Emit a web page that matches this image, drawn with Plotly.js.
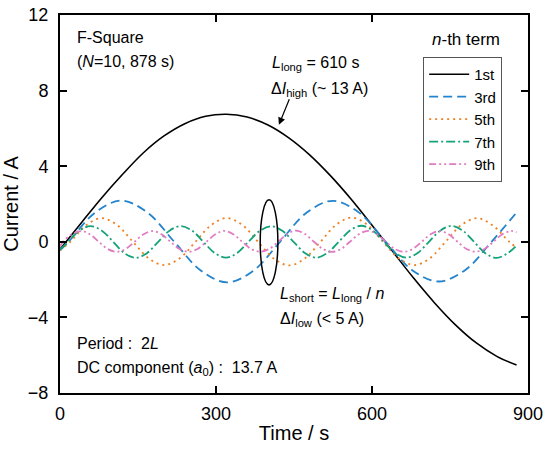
<!DOCTYPE html>
<html>
<head>
<meta charset="utf-8">
<script src="https://cdn.plot.ly/plotly-3.0.1.min.js"></script>
<style>html,body{margin:0;padding:0;background:#fff;}#chart{width:550px;height:452px;}</style>
</head>
<body>
<div id="chart"></div>
<script>
// ---- data ----
var seriesNames = ["1st", "3rd", "5th", "7th", "9th"];

var time1 = [0, 40, 80, 120, 160, 200, 240, 280, 320, 360, 400, 440, 480, 520, 560, 600, 640, 680, 720, 760, 800, 840, 878];
var cur1  = [-0.40, 0.97, 2.32, 3.56, 4.70, 5.60, 6.25, 6.64, 6.75, 6.60, 6.18, 5.50, 4.60, 3.50, 2.25, 0.88, -0.52, -1.92, -3.22, -4.38, -5.34, -6.06, -6.52];

var time3 = [0, 16.5, 67.3, 118.2, 169.0, 219.8, 270.7, 321.5, 372.3, 423.2, 474.0, 524.8, 575.7, 626.5, 677.3, 728.2, 779.0, 829.8, 878];
var cur3  = [-0.45, 0, 1.54, 2.18, 1.53, 0, -1.52, -2.15, -1.52, 0, 1.54, 2.17, 1.53, 0, -1.50, -2.10, -1.50, 0, 1.55];

var time5 = [0, 20, 50.1, 80.1, 110.2, 140.2, 170.3, 200.4, 230.4, 260.5, 290.5, 320.6, 350.7, 380.7, 410.8, 440.8, 470.9, 501.0, 531.0, 561.1, 591.1, 621.2, 651.3, 681.3, 711.4, 741.4, 771.5, 801.6, 831.6, 864.0, 878];
var cur5  = [-0.45, 0, 0.88, 1.25, 0.88, 0, -0.87, -1.23, -0.87, 0, 0.88, 1.26, 0.89, 0, -0.88, -1.25, -0.88, 0, 0.90, 1.28, 0.90, 0, -0.87, -1.23, -0.87, 0, 0.88, 1.25, 0.88, 0, -0.30];

var time7 = [0, 15.4, 37.1, 58.8, 80.5, 102.2, 123.9, 145.5, 167.2, 188.9, 210.6, 232.3, 254.0, 275.7, 297.4, 319.1, 340.8, 362.4, 384.1, 405.8, 427.5, 449.2, 470.9, 492.6, 514.3, 536.0, 557.7, 579.3, 601.0, 622.7, 644.4, 666.1, 687.8, 709.5, 731.2, 752.9, 774.6, 796.2, 817.9, 839.6, 861.3, 878];
var cur7  = [-0.42, 0, 0.59, 0.83, 0.59, 0, -0.60, -0.85, -0.60, 0, 0.59, 0.83, 0.59, 0, -0.59, -0.84, -0.59, 0, 0.58, 0.82, 0.58, 0, -0.59, -0.84, -0.59, 0, 0.60, 0.85, 0.60, 0, -0.59, -0.84, -0.59, 0, 0.59, 0.84, 0.59, 0, -0.60, -0.85, -0.60, -0.20];

var time9 = [0, 5.5, 22.8, 40.0, 57.3, 74.5, 91.8, 109.0, 126.3, 143.5, 160.8, 178.0, 195.3, 212.5, 229.8, 247.0, 264.3, 281.5, 298.8, 316.0, 333.3, 350.5, 367.8, 385.0, 402.3, 419.5, 436.8, 454.0, 471.3, 488.5, 505.8, 523.0, 540.3, 557.5, 574.8, 592.0, 609.3, 626.5, 643.8, 661.0, 678.3, 695.5, 712.8, 730.0, 747.3, 764.5, 781.8, 799.0, 816.3, 833.5, 850.8, 868.0, 878];
var cur9  = [-0.25, 0, 0.40, 0.57, 0.40, 0, -0.38, -0.53, -0.38, 0, 0.40, 0.57, 0.40, 0, -0.38, -0.53, -0.38, 0, 0.40, 0.58, 0.40, 0, -0.38, -0.52, -0.38, 0, 0.41, 0.59, 0.41, 0, -0.38, -0.53, -0.38, 0, 0.40, 0.58, 0.40, 0, -0.38, -0.53, -0.38, 0, 0.40, 0.57, 0.40, 0, -0.38, -0.52, -0.38, 0, 0.40, 0.57, 0.50];

var xTicks = [0, 300, 600, 900];
var yTicks = [-8, -4, 0, 4, 8, 12];

// ---- styles ----
var FONT = "Liberation Sans, Arial, sans-serif";
var colors = ["#000000", "#2383cc", "#f07f1e", "#14a27a", "#e07cc2"];
var dashes = ["solid", "9px,5px", "2px,4px", "9px,3px,2px,3px", "7px,3px,2px,3px,2px,3px"];
var xs = [time1, time3, time5, time7, time9];
var ys = [cur1, cur3, cur5, cur7, cur9];

var traces = seriesNames.map(function (nm, i) {
  return {
    x: xs[i], y: ys[i], name: nm, type: "scatter", mode: "lines",
    line: {color: colors[i], width: i === 0 ? 1.6 : 1.8, dash: dashes[i], shape: "spline", smoothing: 1}
  };
});

var annFont = {family: FONT, size: 16, color: "#000"};
function ann(x, y, text, xanchor) {
  return {x: x, y: y, xref: "x", yref: "y", text: text, showarrow: false,
          xanchor: xanchor || "left", yanchor: "middle", font: annFont};
}

var layout = {
  width: 550, height: 452,
  margin: {l: 60, r: 22, t: 15, b: 59},
  paper_bgcolor: "#fff", plot_bgcolor: "#fff",
  font: {family: FONT, size: 18, color: "#000"},
  showlegend: true,
  legend: {
    x: 0.776, y: 0.889, xanchor: "left", yanchor: "top",
    bgcolor: "#fff", bordercolor: "#555", borderwidth: 1,
    font: {family: FONT, size: 15, color: "#000"},
    itemwidth: 40,
    tracegroupgap: 0
  },
  xaxis: {
    range: [0, 900], tickvals: xTicks, ticktext: xTicks.map(String),
    ticks: "inside", ticklen: 7, tickwidth: 2, tickcolor: "#000",
    showline: true, linewidth: 2, linecolor: "#000", mirror: "ticks",
    showgrid: false, zeroline: false,
    tickfont: {family: FONT, size: 18, color: "#000"},
    ticklabelstandoff: 3,
    title: {text: "Time / s", font: {family: FONT, size: 20, color: "#000"}, standoff: 3}
  },
  yaxis: {
    range: [-8, 12], tickvals: yTicks, ticktext: yTicks.map(function (v) { return v < 0 ? "\u2212" + Math.abs(v) : String(v); }),
    ticks: "inside", ticklen: 7, tickwidth: 2, tickcolor: "#000",
    showline: true, linewidth: 2, linecolor: "#000", mirror: "ticks",
    showgrid: false, zeroline: false,
    tickfont: {family: FONT, size: 18, color: "#000"},
    ticklabelstandoff: 6,
    title: {text: "Current / A", font: {family: FONT, size: 20, color: "#000"}, standoff: 5}
  },
  shapes: [
    {type: "circle", xref: "x", yref: "y", x0: 385, x1: 419, y0: -2.28, y1: 2.22,
     line: {color: "#000", width: 1.5}, fillcolor: "rgba(0,0,0,0)"}
  ],
  annotations: [
    ann(29, 10.8, "F-Square"),
    ann(29, 9.52, "(<i>N</i>=10, 878 s)"),
    ann(404, 9.45, "<i>L</i><sub>long</sub> = 610 s"),
    ann(402, 8.04, "\u0394<i>I</i><sub>high</sub> (~ 13 A)"),
    ann(419, -2.8, "<i>L</i><sub>short</sub> = <i>L</i><sub>long</sub> / <i>n</i>"),
    ann(419, -4.13, "\u0394<i>I</i><sub>low</sub> (< 5 A)"),
    ann(29, -5.4, "Period :  2<i>L</i>"),
    ann(29, -6.72, "DC component (<i>a</i><sub>0</sub>) :  13.7 A"),
    {x: 781, y: 10.69, xref: "x", yref: "y", text: "<i>n</i>-th term", showarrow: false,
     xanchor: "center", yanchor: "middle", font: {family: FONT, size: 17, color: "#000"}},
    {x: 421, y: 6.19, xref: "x", yref: "y", text: "", showarrow: true,
     ax: 11, ay: -27, arrowhead: 2, arrowsize: 1.2, arrowwidth: 1.2, arrowcolor: "#000"}
  ]
};

Plotly.newPlot("chart", traces, layout, {displayModeBar: false, staticPlot: true});
</script>
</body>
</html>
